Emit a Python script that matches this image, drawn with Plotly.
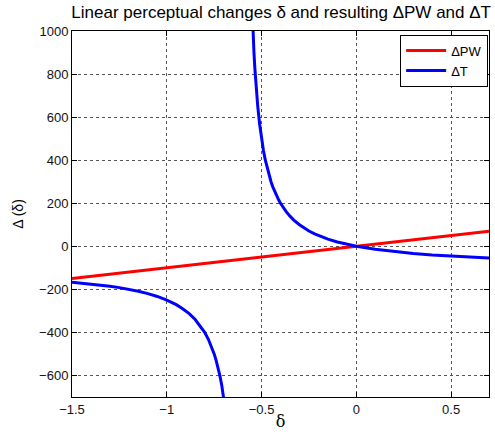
import plotly.graph_objects as go

# Relative change of pulse width: linear in delta
pw_delta = [-1.5, 0.7]
pw_values = [-150, 70]

# Relative change of period: lower branch (left of the pole)
t_lower_delta = [-1.5, -1.45, -1.4, -1.35, -1.3, -1.25, -1.2, -1.15, -1.1, -1.05,
                 -1.0, -0.98, -0.95, -0.92, -0.9, -0.88, -0.85, -0.82, -0.8,
                 -0.78, -0.76, -0.75, -0.74, -0.73, -0.72, -0.71, -0.70, -0.69]
t_lower_values = [-167, -171, -175, -180, -186, -192, -200, -209, -220, -233,
                  -250, -258, -271, -288, -300, -314, -340, -373, -400,
                  -433, -475, -500, -529, -562, -600, -645, -700, -767]

# Upper branch (right of the pole)
t_upper_delta = [-0.555, -0.55, -0.545, -0.54, -0.535, -0.53, -0.52, -0.51, -0.5,
                 -0.49, -0.48, -0.47, -0.46, -0.45, -0.44, -0.43, -0.42, -0.41,
                 -0.4, -0.38, -0.37, -0.35, -0.33, -0.3, -0.28, -0.25, -0.22,
                 -0.2, -0.15, -0.1, -0.05, 0.0, 0.1, 0.2, 0.3,
                 0.4, 0.5, 0.6, 0.7]
t_upper_values = [1233, 1100, 991, 900, 823, 757, 650, 567, 500,
                  445, 400, 362, 329, 300, 275, 253, 233, 216,
                  200, 173, 161, 140, 122, 100, 88, 71, 58,
                  50, 33, 20, 9, 0, -14, -25, -33,
                  -40, -45, -50, -54]

x_ticks = [-1.5, -1, -0.5, 0, 0.5]
y_ticks = [-600, -400, -200, 0, 200, 400, 600, 800, 1000]

font_family = "Liberation Sans, Arial, sans-serif"

fig = go.Figure()
fig.add_trace(go.Scatter(x=pw_delta, y=pw_values, mode="lines",
                         line=dict(color="#ff0000", width=3), name="ΔPW"))
fig.add_trace(go.Scatter(x=t_lower_delta + [None] + t_upper_delta,
                         y=t_lower_values + [None] + t_upper_values,
                         mode="lines", connectgaps=False,
                         line=dict(color="#0000ff", width=3), name="ΔT"))

axis_common = dict(
    showline=True, linecolor="black", linewidth=1, mirror="ticks",
    ticks="inside", ticklen=5, tickcolor="black",
    showgrid=True, gridcolor="#555555", griddash="dot", gridwidth=1,
    zeroline=False, tickfont=dict(family=font_family, size=13, color="#111111"),
)

fig.update_xaxes(range=[-1.5, 0.7], tickvals=x_ticks,
                 ticktext=["−1.5", "−1", "−0.5", "0", "0.5"],
                 title=dict(text="δ", font=dict(family="DejaVu Serif, serif", size=16, color="black"), standoff=0),
                 **axis_common)
fig.update_yaxes(range=[-700, 1000], tickvals=y_ticks,
                 title=dict(text="Δ (δ)", font=dict(family=font_family, size=14, color="black"), standoff=12),
                 **axis_common)

fig.update_layout(
    width=495, height=439,
    margin=dict(l=72, r=6, t=31, b=42),
    paper_bgcolor="white", plot_bgcolor="white",
    title=dict(text="Linear perceptual changes δ and resulting ΔPW and ΔT",
               x=0.568, xanchor="center", y=0.985, yanchor="top",
               font=dict(family=font_family, size=17, color="black")),
    legend=dict(x=0.998, y=0.99, xanchor="right", yanchor="top",
                bgcolor="white", bordercolor="black", borderwidth=1,
                font=dict(family=font_family, size=13, color="black"),
                tracegroupgap=0, itemwidth=40),
    showlegend=True,
)

fig.write_html("out.html")
